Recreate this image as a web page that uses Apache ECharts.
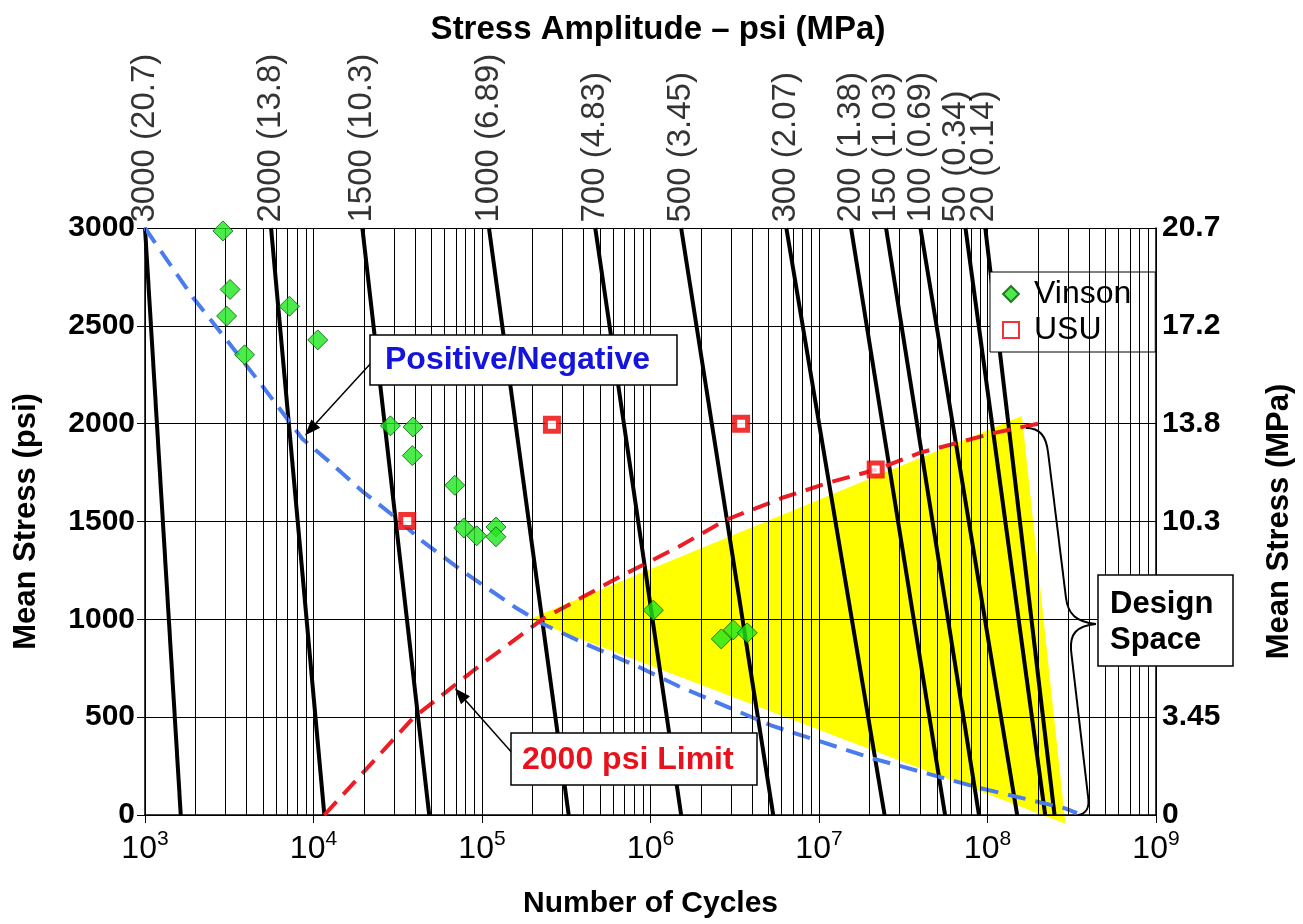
<!DOCTYPE html>
<html>
<head>
<meta charset="utf-8">
<script src="https://cdn.jsdelivr.net/npm/echarts/dist/echarts.min.js"></script>
<style>
  html, body { margin: 0; padding: 0; background: #fff; }
  #chart { width: 1303px; height: 924px; }
</style>
</head>
<body>
<div id="chart"></div>
<script>
const FONT = "'Liberation Sans', Arial, Helvetica, sans-serif";

// constant stress amplitude lines: cycles at mean stress 3000 psi (top) and 0 psi (bottom)
const ampLabels = ['3000 (20.7)', '2000 (13.8)', '1500 (10.3)', '1000 (6.89)', '700 (4.83)', '500 (3.45)',
                   '300 (2.07)', '200 (1.38)', '150 (1.03)', '100 (0.69)', '50 (0.34)', '20 (0.14)'];
const ampTopN    = [1.0e3, 5.6e3, 1.95e4, 1.1e5, 4.7e5, 1.52e6, 6.4e6, 1.55e7, 2.5e7, 4.0e7, 7.4e7, 9.7e7];
const ampBottomN = [1.63e3, 1.16e4, 4.86e4, 3.27e5, 1.52e6, 5.35e6, 2.45e7, 5.6e7, 8.9e7, 1.5e8, 2.2e8, 2.5e8];

// Vinson data (diamonds)
const vinsonN    = [2.9e3, 3.2e3, 3.05e3, 3.9e3, 7.2e3, 1.06e4, 2.86e4, 3.9e4, 3.86e4, 6.9e4, 7.8e4, 9.3e4,
                    1.21e5, 1.21e5, 1.04e6, 2.63e6, 3.1e6, 3.75e6];
const vinsonMean = [2985, 2686, 2550, 2352, 2600, 2428, 1989, 1983, 1837, 1685, 1467, 1427,
                    1472, 1422, 1047, 900, 946, 931];

// USU data (squares)
const usuN    = [3.6e4, 2.6e5, 3.45e6, 2.17e7];
const usuMean = [1503, 1995, 2000, 1766];

// Positive/Negative boundary (blue dashed)
const posNegN    = [1.0e3, 1.92e3, 3.05e3, 5.0e3, 8.6e3, 1.24e4, 1.95e4, 3.1e4, 4.4e4, 7.6e4, 1.57e5,
                    2.3e5, 4.1e5, 8.4e5, 1.47e6, 5.3e6, 2.1e7, 9.1e7, 2.86e8, 3.4e8];
const posNegMean = [3000, 2646, 2428, 2190, 1922, 1806, 1654, 1518, 1401, 1249, 1062,
                    976, 875, 759, 658, 455, 288, 137, 35, 10];

// 2000 psi limit (red dashed)
const limitN    = [1.16e4, 3.9e4, 9.7e4, 2.3e5, 6.6e5, 1.47e6, 2.8e6, 6.2e6, 1.16e7, 2.2e7, 4.0e7, 1.1e8, 2.1e8];
const limitMean = [0, 496, 764, 1002, 1219, 1371, 1508, 1624, 1700, 1766, 1852, 1953, 2004];

// design space (yellow)
const designN    = [1.9e5, 1.6e8, 2.9e8];
const designMean = [1000, 2039, -45];

// axis tick labels
const meanTicks  = [0, 500, 1000, 1500, 2000, 2500, 3000];
const mpaLabels  = ['0', '3.45', '6.89', '10.3', '13.8', '17.2', '20.7'];

// vertical grid lines at 1..9 x each decade
const vGrid = [];
for (let d = 3; d < 9; d++) {
    for (let m = 1; m <= 9; m++) vGrid.push(m * Math.pow(10, d));
}
vGrid.push(1e9);

const chart = echarts.init(document.getElementById('chart'));

const series = [];

// yellow design space
series.push({
    type: 'custom',
    name: 'design',
    z: 1,
    silent: true,
    clip: false,
    data: [[designN[0], designMean[0]]],
    renderItem: function (params, api) {
        const pts = designN.map((n, i) => api.coord([n, designMean[i]]));
        return { type: 'polygon', shape: { points: pts }, style: { fill: '#ffff00' } };
    }
});

// grid lines
series.push({
    type: 'line',
    name: 'grid',
    z: 2,
    silent: true,
    symbol: 'none',
    data: [[1e3, 0]],
    lineStyle: { width: 0 },
    markLine: {
        silent: true,
        symbol: 'none',
        animation: false,
        label: { show: false },
        lineStyle: { color: '#000', width: 1, type: 'solid' },
        data: vGrid.map(v => ({ xAxis: v }))
    }
});

// stress amplitude lines
ampLabels.forEach((lab, i) => {
    series.push({
        type: 'line',
        name: lab,
        z: 3,
        silent: true,
        symbol: 'none',
        data: [[ampTopN[i], 3000], [ampBottomN[i], 0]],
        lineStyle: { color: '#000', width: 4 }
    });
});

// labels of amplitude lines along the top (offset is in the rotated frame: 2nd value moves sideways)
const labelShift = { '50 (0.34)': -10, '20 (0.14)': -1 };
series.push({
    type: 'scatter',
    name: 'ampLabels',
    z: 3,
    silent: true,
    symbolSize: 1,
    itemStyle: { color: 'transparent' },
    data: ampLabels.map((lab, i) => ({
        value: [ampTopN[i], 3000], name: lab,
        label: { offset: [0, labelShift[lab] || 0] }
    })),
    label: {
        show: true,
        formatter: p => p.name,
        position: 'top',
        distance: 5,
        rotate: 90,
        align: 'left',
        verticalAlign: 'middle',
        color: '#000',
        fontFamily: FONT,
        fontSize: 33
    }
});

// dashed boundaries
series.push({
    type: 'line', name: 'Positive/Negative', z: 4, silent: true, symbol: 'none',
    data: posNegN.map((n, i) => [n, posNegMean[i]]),
    lineStyle: { color: '#4a7cf0', width: 4, type: [18, 10] }
});
series.push({
    type: 'line', name: '2000 psi Limit', z: 4, silent: true, symbol: 'none',
    data: limitN.map((n, i) => [n, limitMean[i]]),
    lineStyle: { color: '#ee1c25', width: 4, type: [18, 10] }
});

// test data
series.push({
    type: 'scatter', name: 'Vinson', z: 5,
    symbol: 'diamond', symbolSize: 20,
    itemStyle: { color: '#1ee61e', borderColor: '#0a5a0a', borderWidth: 1 },
    data: vinsonN.map((n, i) => [n, vinsonMean[i]])
});
series.push({
    type: 'scatter', name: 'USU', z: 5,
    symbol: 'rect', symbolSize: 13,
    itemStyle: { color: '#fff', borderColor: '#ee0000', borderWidth: 5 },
    data: usuN.map((n, i) => [n, usuMean[i]])
});

const option = {
    animation: false,
    backgroundColor: '#fff',
    textStyle: { fontFamily: FONT },
    grid: { left: 145, right: 143, top: 228, bottom: 103 },
    legend: {
        data: ['Vinson', 'USU'],
        orient: 'vertical',
        left: 990, top: 272,
        padding: [6, 24, 6, 12],
        itemGap: 4,
        itemWidth: 16, itemHeight: 16,
        backgroundColor: '#fff',
        borderColor: '#000', borderWidth: 1,
        textStyle: { fontFamily: FONT, fontSize: 32, color: '#000', padding: [0, 0, 0, 10] }
    },
    xAxis: {
        type: 'log', logBase: 10, min: 1e3, max: 1e9, z: 2,
        axisLine: { lineStyle: { color: '#000', width: 1.5 } },
        axisTick: { show: true, length: 8, lineStyle: { color: '#000' } },
        splitLine: { show: false },
        axisLabel: {
            margin: 14,
            color: '#000',
            formatter: v => '{b|10}{s|' + Math.round(Math.log10(v)) + '}',
            rich: {
                b: { fontFamily: FONT, fontSize: 32, color: '#000', lineHeight: 36, verticalAlign: 'bottom' },
                s: { fontFamily: FONT, fontSize: 21, color: '#000', lineHeight: 36, verticalAlign: 'top', padding: [0, 0, 14, 0] }
            }
        },
        name: 'Number of Cycles',
        nameLocation: 'middle',
        nameGap: 74,
        nameTextStyle: { fontFamily: FONT, fontSize: 30, fontWeight: 'bold', color: '#000' }
    },
    yAxis: [{
        type: 'value', min: 0, max: 3000, interval: 500, z: 2,
        axisLine: { show: true, lineStyle: { color: '#000', width: 1.5 } },
        axisTick: { show: true, length: 8, lineStyle: { color: '#000' } },
        splitLine: { show: true, lineStyle: { color: '#000', width: 1 } },
        axisLabel: { margin: 10, color: '#000', fontFamily: FONT, fontSize: 30, fontWeight: 'bold',
                     formatter: v => String(v) },
        name: 'Mean Stress (psi)',
        nameLocation: 'middle',
        nameRotate: 90,
        nameGap: 103,
        nameTextStyle: { fontFamily: FONT, fontSize: 31, fontWeight: 'bold', color: '#000' }
    }, {
        type: 'value', min: 0, max: 3000, interval: 500, position: 'right', z: 2,
        axisLine: { show: true, lineStyle: { color: '#000', width: 1.5 } },
        axisTick: { show: false },
        splitLine: { show: false },
        axisLabel: {
            margin: 6, color: '#000', fontFamily: FONT, fontSize: 30, fontWeight: 'bold',
            formatter: v => mpaLabels[meanTicks.indexOf(v)]
        },
        name: 'Mean Stress (MPa)',
        nameLocation: 'middle',
        nameRotate: 90,
        nameGap: 108,
        nameTextStyle: { fontFamily: FONT, fontSize: 31, fontWeight: 'bold', color: '#000' }
    }],
    series: series
};

chart.setOption(option);

// annotations
const px = p => chart.convertToPixel({ xAxisIndex: 0, yAxisIndex: 0 }, p);

function arrow(from, to) {
    const ang = Math.atan2(to[1] - from[1], to[0] - from[0]);
    const L = 16, W = 6;
    const bx = to[0] - L * Math.cos(ang), by = to[1] - L * Math.sin(ang);
    return [
        { type: 'line', z: 100, shape: { x1: from[0], y1: from[1], x2: bx, y2: by },
          style: { stroke: '#000', lineWidth: 1.5 } },
        { type: 'polygon', z: 100,
          shape: { points: [to, [bx - W * Math.sin(ang), by + W * Math.cos(ang)], [bx + W * Math.sin(ang), by - W * Math.cos(ang)]] },
          style: { fill: '#000' } }
    ];
}

function box(x, y, w, h) {
    return { type: 'rect', z: 100, shape: { x: x, y: y, width: w, height: h },
             style: { fill: '#fff', stroke: '#000', lineWidth: 1.5 } };
}

function curve(x1, y1, c1x, c1y, c2x, c2y, x2, y2) {
    return { type: 'bezierCurve', z: 100,
             shape: { x1: x1, y1: y1, cpx1: c1x, cpy1: c1y, cpx2: c2x, cpy2: c2y, x2: x2, y2: y2 },
             style: { stroke: '#000', lineWidth: 2, fill: null } };
}

function seg(x1, y1, x2, y2) {
    return { type: 'line', z: 100, shape: { x1: x1, y1: y1, x2: x2, y2: y2 },
             style: { stroke: '#000', lineWidth: 2 } };
}

const pnTip = px([8.9e3, 1940]);
const limTip = px([6.9e4, 648]);

const elements = [].concat(
    arrow([372, 362], pnTip),
    arrow([514, 755], limTip),
    [
        box(370, 335, 307, 50),
        { type: 'text', z: 101, x: 385, y: 360,
          style: { text: 'Positive/Negative', fill: '#1414dc', font: 'bold 32px ' + FONT, textVerticalAlign: 'middle' } },
        box(511, 733, 246, 52),
        { type: 'text', z: 101, x: 522, y: 760,
          style: { text: '2000 psi Limit', fill: '#e8121c', font: 'bold 32px ' + FONT, textVerticalAlign: 'middle' } },
        box(1098, 575, 135, 91),
        { type: 'text', z: 101, x: 1110, y: 586,
          style: { text: 'Design\nSpace', fill: '#000', font: 'bold 31px ' + FONT, lineHeight: 36 } },
        // curly brace round the design space
        curve(1026, 428, 1040, 428, 1046, 436, 1048, 452),
        seg(1048, 452, 1066, 598),
        curve(1066, 598, 1068, 614, 1076, 622, 1096, 624),
        curve(1096, 624, 1076, 626, 1070, 634, 1071, 650),
        seg(1071, 650, 1088, 796),
        curve(1088, 796, 1090, 808, 1086, 814, 1078, 815),
        { type: 'text', z: 101, x: 658, y: 30,
          style: { text: 'Stress Amplitude \u2013 psi (MPa)', fill: '#000', font: 'bold 33px ' + FONT,
                   textAlign: 'center', textVerticalAlign: 'middle' } }
    ]
);

chart.setOption({ graphic: { elements: elements } });
</script>
</body>
</html>
